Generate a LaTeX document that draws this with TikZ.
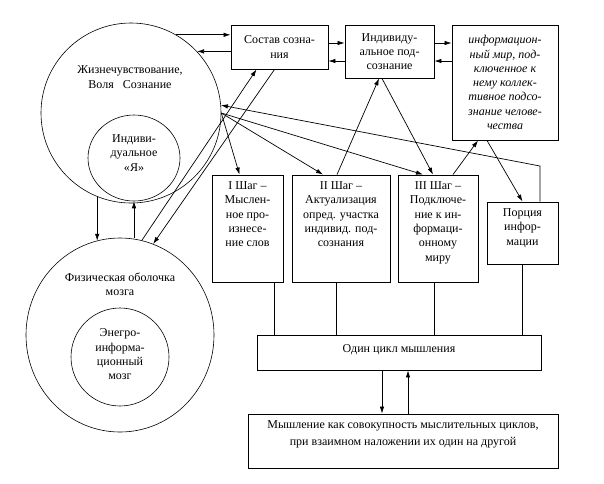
\documentclass[tikz,border=0pt]{standalone}
\usepackage{fontspec}
\setmainfont{Liberation Serif}
\usetikzlibrary{shapes.geometric,arrows.meta,calc}
\begin{document}
\begin{tikzpicture}[x=1pt,y=-1pt,
  every node/.style={font=\fontsize{12}{14.3}\selectfont, inner sep=0pt},
  box/.style={draw, line width=0.9pt, inner sep=0pt, align=center},
  txt/.style={align=center, anchor=north},
  ring/.style={draw, line width=0.6pt, inner sep=0pt},
  conn/.style={line width=0.7pt},
  arr/.style={conn, -{Latex[length=7pt,width=4.5pt]}}]
\useasboundingbox (0,0) rectangle (604,483);
\fill[white] (0,0) rectangle (604,483);

% circles
\node[ring, circle, minimum size=180pt] (big) at (131,113) {};
\node[ring, ellipse, minimum width=92pt, minimum height=86pt] (ya) at (134,158) {};
\node[ring, ellipse, minimum width=188pt, minimum height=194pt] (low) at (120,335) {};
\node[ring, circle, minimum size=98pt] (lowin) at (120,357) {};
\node[align=center] (bigtxt) at (130,77) {Жизнечувствование,\\Воля\hspace{9pt}Сознание};
\node[align=center] (yatxt) at (134,153) {Индиви-\\дуальное\\«Я»};
\node[align=center] (lowtxt) at (120,284.5) {Физическая оболочка\\мозга};
\node[align=center] (lowintxt) at (120,354.5) {Энегро-\\информа-\\ционный\\мозг};

% top boxes
\node[box, minimum width=97pt, minimum height=44pt] (sostav) at (279.5,47) {Состав созна-\\ния};
\node[box, minimum width=89pt, minimum height=53pt] (ind) at (389.5,51.5) {Индивиду-\\альное под-\\сознание};
\node[box, minimum width=106pt, minimum height=115pt, font=\fontsize{12}{14.3}\selectfont\itshape] (inf) at (505,82.5) {информацион-\\ный мир, под-\\ключенное к\\нему коллек-\\тивное подсо-\\знание челове-\\чества};

% step boxes
\node[box, minimum width=71pt, minimum height=107pt] (s1) at (247.5,228.5) {};
\node[box, minimum width=98pt, minimum height=107pt] (s2) at (341,228.5) {};
\node[box, minimum width=80pt, minimum height=107pt] (s3) at (438,228.5) {};
\node[box, minimum width=71pt, minimum height=62pt] (p) at (522.5,233) {};
\node[txt] (t1) at ([yshift=-7pt]s1.north) {I Шаг –\\Мыслен-\\ное про-\\изнесе-\\ние слов};
\node[txt] (t2) at ([yshift=-7pt]s2.north) {II Шаг –\\Актуализация\\опред. участка\\индивид. под-\\сознания};
\node[txt] (t3) at ([yshift=-7pt]s3.north) {III Шаг –\\Подключе-\\ние к ин-\\формаци-\\онному\\миру};
\node[txt] (tp) at ([yshift=-7pt]p.north) {Порция\\инфор-\\мации};

% bottom boxes
\node[box, minimum width=284pt, minimum height=35pt] (cyc) at (399,352.5) {};
\node (cyctxt) at ([yshift=3pt]cyc.center) {Один цикл мышления};
\node[box, minimum width=310pt, minimum height=54pt] (mysh) at (403,441) {};
\node[txt, font=\fontsize{12}{17}\selectfont] (myshtxt) at ([yshift=-7pt]mysh.north) {Мышление как совокупность мыслительных циклов,\\при взаимном наложении их один на другой};

% big circle <-> Состав
\draw[arr] (big.60) -- (big.60 -| sostav.west);
\draw[arr] (big.43 -| sostav.west) -- (big.43);
% top row
\draw[arr] ([yshift=4pt]sostav.east) -- ([yshift=4pt]sostav.east -| ind.west);
\draw[arr] ([yshift=-14pt]sostav.east -| ind.west) -- ([yshift=-14pt]sostav.east);
\draw[arr] ([yshift=8.5pt]ind.east) -- ([yshift=8.5pt]ind.east -| inf.west);
\draw[arr] ([yshift=-9.5pt]ind.east -| inf.west) -- ([yshift=-9.5pt]ind.east);

% big circle -> steps
\draw[arr] (big.east) -- ([xshift=-8pt]s1.north);
\draw[arr] (big.east) -- ([xshift=-18pt]s2.north);
\draw[arr] (big.east) -- ([xshift=-15pt]s3.north);
\coordinate (pc) at (540,166);
\draw[arr] ([xshift=17.5pt]p.north) -- (pc) -- (big.5);

% Индивид <-> steps
\draw[arr] ([xshift=-4pt]s2.north) -- ([xshift=-10.5pt]ind.south);
\draw[arr] ([xshift=-7.5pt]ind.south) -- ([xshift=-5pt]s3.north);
\draw[arr] ([xshift=15pt]s3.north) -- ([xshift=-27pt]inf.south);
\draw[arr] ([xshift=-18pt]inf.south) -- (p.north);

% Состав <-> lower circle
\draw[arr] (low.77) -- ([xshift=-23pt]sostav.south);
\draw[arr] ([xshift=-5pt]sostav.south) -- (low.70);

% big <-> lower vertical
\draw[arr] (big.248) -- (big.248 |- low.104);
\draw[arr] (ya.south |- low.north) -- (ya.south);

% steps -> cycle
\draw[conn] ([xshift=26.5pt]s1.south) -- ([xshift=26.5pt]s1.south |- cyc.north);
\draw[conn] ([xshift=-5pt]s2.south) -- ([xshift=-5pt]s2.south |- cyc.north);
\draw[conn] ([xshift=-4pt]s3.south) -- ([xshift=-4pt]s3.south |- cyc.north);
\draw[conn] (p.south) -- (p.south |- cyc.north);

% cycle <-> mysh
\draw[arr] ([xshift=-17pt]cyc.south) -- ([xshift=-17pt]cyc.south |- mysh.north);
\draw[arr] ([xshift=9pt]cyc.south |- mysh.north) -- ([xshift=9pt]cyc.south);
\end{tikzpicture}
\end{document}
